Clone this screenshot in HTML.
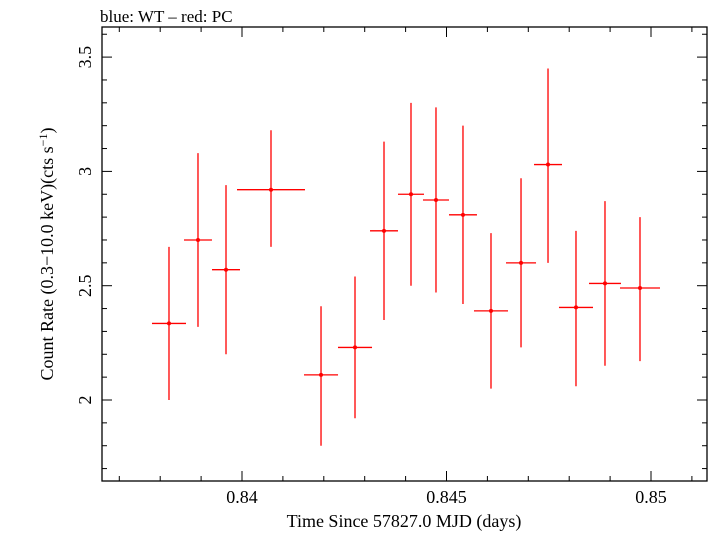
<!DOCTYPE html>
<html><head><meta charset="utf-8"><style>
body{margin:0;background:#fff;}
svg text{font-family:"Liberation Serif",serif;fill:#000;}
</style></head><body>
<svg id="chart" width="709" height="532" xmlns="http://www.w3.org/2000/svg">
<text x="100" y="22" font-size="17">blue: WT – red: PC</text>
<g id="ticks"></g>
<g id="marks"></g>
<rect x="102" y="27" width="605" height="454" fill="none" stroke="#000" stroke-width="1.3"/>
<text x="404" y="527" font-size="18" text-anchor="middle">Time Since 57827.0 MJD (days)</text>
<text transform="translate(53,254) rotate(-90)" font-size="18" text-anchor="middle">Count Rate (0.3−10.0 keV)(cts s<tspan dy="-6" font-size="12">−1</tspan><tspan dy="6">)</tspan></text>
</svg>
<script>
const times=[0.838215,0.838924,0.839609,0.840709,0.841932,0.842763,0.843472,0.844132,0.844743,0.845403,0.846088,0.846822,0.847482,0.848166,0.848875,0.849731];
const halfWidths=[0.000416,0.000342,0.000342,0.000831,0.000416,0.000416,0.000342,0.000318,0.000318,0.000342,0.000416,0.000367,0.000342,0.000416,0.000391,0.000489];
const rates=[2.335,2.70,2.57,2.92,2.11,2.23,2.74,2.90,2.875,2.81,2.39,2.60,3.03,2.405,2.51,2.49];
const rateLow=[2.00,2.32,2.20,2.67,1.80,1.92,2.35,2.50,2.47,2.42,2.05,2.23,2.60,2.06,2.15,2.17];
const rateHigh=[2.67,3.08,2.94,3.18,2.41,2.54,3.13,3.30,3.28,3.20,2.73,2.97,3.45,2.74,2.87,2.80];
const xTickLabels=["0.84","0.845","0.85"];
const yTickLabels=["2","2.5","3","3.5"];
const NS="http://www.w3.org/2000/svg";
const L=102,R=707,T=27,B=481;
function xs(t){return 242+(t-0.84)*40900;}
function ys(v){return 400-(v-2)*228.6;}
function mk(tag,attrs,parent){const e=document.createElementNS(NS,tag);for(const k in attrs)e.setAttribute(k,attrs[k]);parent.appendChild(e);return e;}
const tg=document.getElementById('ticks');
for(let i=837;i<=851;i++){const t=i/1000;const x=xs(t);if(x<L||x>R)continue;const major=i%5===0;const len=major?10:5;
 const a=mk('line',{x1:x,x2:x,y1:B,y2:B-len,stroke:'#000','stroke-width':1},tg);
 
 
 const b=mk('line',{x1:x,x2:x,y1:T,y2:T+len,stroke:'#000','stroke-width':1},tg);
 
 }
xTickLabels.forEach(s=>{const tx=mk('text',{x:xs(parseFloat(s)),y:503,'font-size':18,'text-anchor':'middle'},tg);tx.textContent=s;
 
 });
for(let i=17;i<=36;i++){const v=i/10;const y=ys(v);if(y<T||y>B)continue;const major=i%5===0;const len=major?10:5;
 const a=mk('line',{x1:L,x2:L+len,y1:y,y2:y,stroke:'#000','stroke-width':1},tg);
 
 
 const b=mk('line',{x1:R,x2:R-len,y1:y,y2:y,stroke:'#000','stroke-width':1},tg);
 
 }
yTickLabels.forEach(s=>{const y=ys(parseFloat(s));const tx=mk('text',{transform:`translate(91,${y}) rotate(-90)`,'font-size':18,'text-anchor':'middle'},tg);tx.textContent=s;
 
 });
const mg=document.getElementById('marks');
times.forEach((t,i)=>{const g=mk('g',{},mg);
 
 
 const x=xs(t),y=ys(rates[i]);
 mk('line',{x1:xs(t-halfWidths[i]),x2:xs(t+halfWidths[i]),y1:y,y2:y,stroke:'#f00','stroke-width':1.3},g);
 mk('line',{x1:x,x2:x,y1:ys(rateLow[i]),y2:ys(rateHigh[i]),stroke:'#f00','stroke-width':1.3},g);
 mk('circle',{cx:x,cy:y,r:2,fill:'#f00'},g);});
</script>
</body></html>
